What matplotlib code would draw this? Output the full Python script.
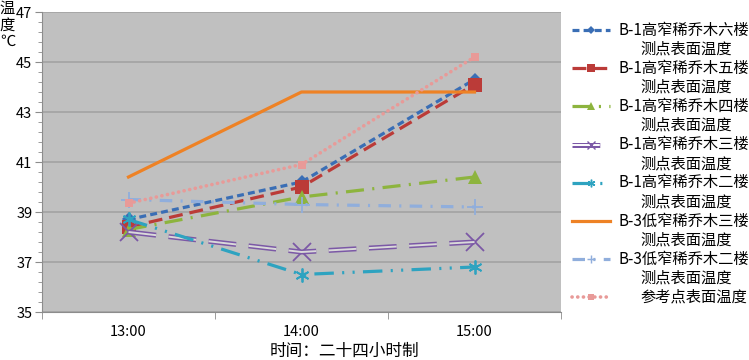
import matplotlib
matplotlib.use("Agg")
import matplotlib.pyplot as plt
from matplotlib.lines import Line2D
import numpy as np

plt.rcParams['font.family'] = ['Noto Sans CJK SC', 'DejaVu Sans']
plt.rcParams['lines.scale_dashes'] = False

categories = ["13:00", "14:00", "15:00"]

b1_6 = [38.7, 40.2, 44.3]
b1_5 = [38.4, 40.0, 44.1]
b1_4 = [38.3, 39.6, 40.4]
b1_3 = [38.2, 37.4, 37.8]
b1_2 = [38.7, 36.5, 36.8]
b3_3 = [40.4, 43.8, 43.8]
b3_2 = [39.5, 39.3, 39.2]
ref = [39.35, 40.9, 45.2]

labels = [
    "B-1高窄稀乔木六楼\n测点表面温度",
    "B-1高窄稀乔木五楼\n测点表面温度",
    "B-1高窄稀乔木四楼\n测点表面温度",
    "B-1高窄稀乔木三楼\n测点表面温度",
    "B-1高窄稀乔木二楼\n测点表面温度",
    "B-3低窄稀乔木三楼\n测点表面温度",
    "B-3低窄稀乔木二楼\n测点表面温度",
    "参考点表面温度",
]

asterisk = (6, 2, 0)
styles = [
    dict(color='#3A6EB5', ls=(0, (5, 3)), lw=2.3, marker='D', ms=7, mew=0),
    dict(color='#BB3B38', ls=(0, (10, 5)), lw=2.3, marker='s', ms=10, mew=0),
    dict(color='#8DB43E', ls=(0, (13, 6, 1.5, 6)), lw=2.3, marker='^', ms=10, mew=0),
    dict(color='#7B58A6', ls=(0, (20, 9)), lw=3.6, marker='x', ms=13, mew=1.3),
    dict(color='#2EA3C0', ls=(0, (14, 6, 1.5, 6, 1.5, 6)), lw=2.3, marker=asterisk, ms=10, mew=1.3),
    dict(color='#EE8225', ls='-', lw=2.3, marker=None, ms=0, mew=0),
    dict(color='#90AEDC', ls=(0, (9, 6, 1.5, 6)), lw=2.3, marker='+', ms=11, mew=1.3),
    dict(color='#E89A98', ls=(0, (0.1, 4)), lw=2.6, marker='s', ms=6, mew=0),
]
series = [b1_6, b1_5, b1_4, b1_3, b1_2, b3_3, b3_2, ref]

W, H = 749, 360
fig = plt.figure(figsize=(W / 100, H / 100), dpi=100)
L, R, T, B = 42, 561, 12, 312
ax = fig.add_axes([L / W, 1 - B / H, (R - L) / W, (B - T) / H])
ax.set_facecolor('#C0C0C0')

x = np.arange(len(categories))
order = [5, 7, 6, 2, 1, 0, 4, 3]
for i in order:
    st = styles[i]
    ax.plot(x, series[i], color=st['color'], ls=st['ls'], lw=st['lw'],
            marker=st['marker'], ms=st['ms'], mew=st['mew'],
            mfc=st['color'], mec=st['color'], dash_capstyle='round' if i == 7 else 'butt',
            zorder=3 + i * 0.1)
    if i == 3:
        ax.plot(x, series[i], color='#D9D9D9', ls=(0, (20, 9)), lw=1.4, zorder=3.35)

ax.set_xlim(-0.5, 2.5)
ax.set_ylim(35, 47)
ax.set_yticks(np.arange(35, 48, 2))
ax.set_yticks(np.arange(35, 47.01, 0.4), minor=True)
ax.yaxis.grid(True, which='major', color='#A3A3A3', lw=1.2)
ax.set_axisbelow(True)
ax.set_xticks(x)
ax.set_xticklabels(categories)
ax.set_xticks([-0.5, 0.5, 1.5, 2.5], minor=True)
ax.tick_params(axis='x', which='major', length=0, labelsize=10.5, pad=9)
ax.tick_params(axis='x', which='minor', length=5, color='#8C8C8C')
ax.tick_params(axis='y', which='major', length=5, color='#8C8C8C', labelsize=10.5, pad=2)
ax.tick_params(axis='y', which='minor', length=3, color='#8C8C8C')
for s in ['top', 'right']:
    ax.spines[s].set_visible(False)
for s in ['left', 'bottom']:
    ax.spines[s].set_color('#8C8C8C')

fig.text(7.5 / W, 1 - 0 / H, "温\n度\n℃", fontsize=11, ha='center', va='top', linespacing=0.95)
fig.text(344 / W, 1 - 351 / H, "时间：二十四小时制", fontsize=12, ha='center', va='center')

# legend
y0 = 30
step = 38.2
for i in range(len(series)):
    st = styles[i]
    yy = 1 - (y0 + i * step) / H
    xs = [572 / W, 610 / W]
    if i == 3:
        fig.add_artist(Line2D(xs, [yy, yy], color=st['color'], lw=3.6, ls=(0, (20, 9))))
        fig.add_artist(Line2D(xs, [yy, yy], color='white', lw=1.4, ls=(0, (20, 9))))
        fig.add_artist(Line2D([591 / W], [yy], color=st['color'], marker='x', ms=6, mew=1))
    else:
        fig.add_artist(Line2D(xs, [yy, yy], color=st['color'], lw=st['lw'], ls=st['ls'],
                              dash_capstyle='round' if i == 7 else 'butt'))
        if st['marker']:
            fig.add_artist(Line2D([591 / W], [yy], color=st['color'], marker=st['marker'],
                                  ms=max(st['ms'] * 0.55, 4), mew=st['mew'] * 0.8,
                                  mfc=st['color'], mec=st['color'], ls='none'))
    lines = labels[i].split("\n")
    if len(lines) == 2:
        fig.text(619 / W, yy, lines[0], fontsize=11, ha='left', va='center')
        fig.text(686 / W, 1 - (y0 + i * step + 19) / H, lines[1], fontsize=11, ha='center', va='center')
    else:
        fig.text(640 / W, yy, lines[0], fontsize=11, ha='left', va='center')

fig.savefig("out.png", dpi=100)
